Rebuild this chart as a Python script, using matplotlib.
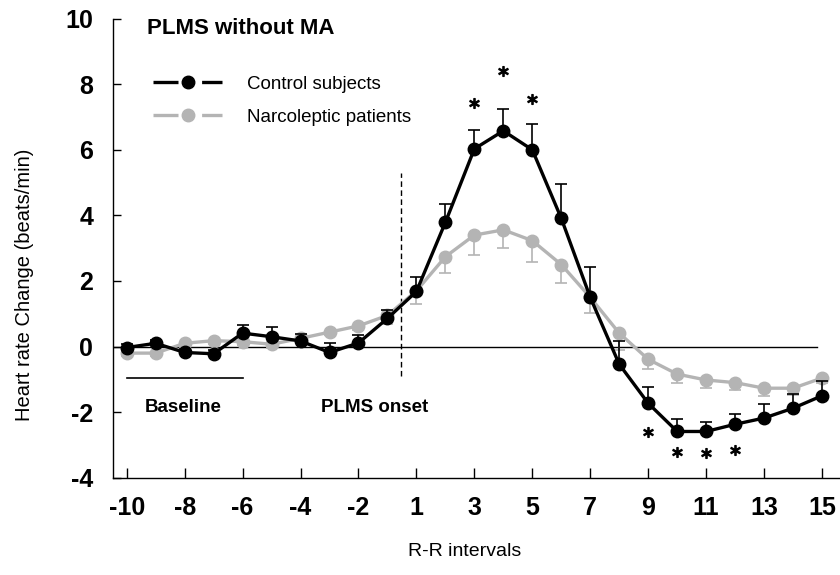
import numpy as np
import matplotlib
matplotlib.use('Agg')
from matplotlib import pyplot as plt
from matplotlib.lines import Line2D

plt.rcParams['font.family'] = ['Liberation Sans', 'DejaVu Sans']
plt.rcParams['lines.scale_dashes'] = False
plt.rcParams['axes.unicode_minus'] = False

# R-R intervals (no interval 0)
intervals = [-10, -9, -8, -7, -6, -5, -4, -3, -2, -1,
             1, 2, 3, 4, 5, 6, 7, 8, 9, 10, 11, 12, 13, 14, 15]
tick_intervals = [-10, -8, -6, -4, -2, 1, 3, 5, 7, 9, 11, 13, 15]

control = [-0.03, 0.10, -0.18, -0.22, 0.41, 0.30, 0.17, -0.18, 0.11, 0.86,
           1.68, 3.79, 6.03, 6.58, 6.00, 3.91, 1.50, -0.54, -1.73, -2.59,
           -2.59, -2.37, -2.18, -1.88, -1.50]
control_err = [0.10, 0.10, 0.10, 0.10, 0.24, 0.31, 0.22, 0.30, 0.25, 0.24,
               0.45, 0.55, 0.56, 0.67, 0.79, 1.04, 0.94, 0.72, 0.49, 0.39,
               0.30, 0.32, 0.43, 0.44, 0.46]

narco = [-0.20, -0.20, 0.10, 0.18, 0.15, 0.07, 0.25, 0.44, 0.63, 0.95,
         1.70, 2.74, 3.40, 3.56, 3.23, 2.50, 1.50, 0.41, -0.39, -0.84,
         -1.02, -1.10, -1.27, -1.27, -0.96]
narco_err = [0.10, 0.10, 0.10, 0.10, 0.10, 0.10, 0.10, 0.10, 0.12, 0.25,
             0.40, 0.50, 0.60, 0.56, 0.64, 0.57, 0.48, 0.51, 0.30, 0.26,
             0.25, 0.22, 0.25, 0.20, 0.15]

# significance stars
star_top_at = [3, 4, 5]
star_top_y = [7.43, 8.40, 7.55]
star_bot_at = [9, 10, 11, 12]
star_bot_y = [-2.60, -3.21, -3.24, -3.15]

pos = np.arange(len(intervals))
idx = {v: i for i, v in enumerate(intervals)}
gris = '#b4b4b4'

fig = plt.figure(figsize=(8.4, 5.75), dpi=100)
ax = fig.add_axes([0.1342, 0.1692, 0.8658, 0.7983])

ax.axhline(0, xmin=0, xmax=0.968, color='black', lw=1)

ax.errorbar(pos, narco, yerr=[narco_err, np.zeros(len(pos))], color=gris,
            lw=2.4, marker='o', ms=9, ecolor=gris, elinewidth=1.2,
            capsize=4, capthick=1.2, zorder=3)
ax.errorbar(pos, control, yerr=[np.zeros(len(pos)), control_err], color='black',
            lw=2.4, marker='o', ms=9, ecolor='black', elinewidth=1.2,
            capsize=4, capthick=1.2, zorder=4)

sx = [idx[v] for v in star_top_at + star_bot_at]
ax.plot(sx, star_top_y + star_bot_y, ls='none', marker='$*$', ms=7, color='black')

# baseline bar, onset line and labels
ax.plot([idx[-10], idx[-6]], [-0.96, -0.96], color='black', lw=1.2)
ax.plot([9.46, 9.46], [-0.9, 5.3], color='black', lw=1, dashes=(4, 2.5))
ax.text(1.94, -1.87, 'Baseline', ha='center', va='center', fontsize=13.5, fontweight='bold')
ax.text(8.57, -1.87, 'PLMS onset', ha='center', va='center', fontsize=13.5, fontweight='bold')

ax.set_xlim(-0.483, 24.62)
ax.set_ylim(-4, 10)
ax.set_xticks([idx[v] for v in tick_intervals])
ax.set_xticklabels([str(v) for v in tick_intervals])
ax.set_yticks([-4, -2, 0, 2, 4, 6, 8, 10])
for lab in ax.get_xticklabels() + ax.get_yticklabels():
  lab.set_fontweight('bold')
  lab.set_fontsize(18)
ax.tick_params(axis='y', direction='in', length=5.8, width=1, pad=14)
ax.tick_params(axis='x', direction='in', length=7.5, width=1, pad=13.5)
for s in ['top', 'right']:
  ax.spines[s].set_visible(False)
for s in ['left', 'bottom']:
  ax.spines[s].set_linewidth(1)

ax.set_ylabel('Heart rate Change (beats/min)', fontsize=14.5)
ax.yaxis.set_label_coords(-0.108, 0.421)
ax.set_xlabel('R-R intervals', fontsize=14)
ax.xaxis.set_label_coords(0.484, -0.1420)

fig.text(0.175, 0.951, 'PLMS without MA', fontsize=16, fontweight='bold', va='center')

handles = [
  Line2D([], [], color='black', lw=2.4, marker='o', ms=9, dashes=(18, 17)),
  Line2D([], [], color=gris, lw=2.4, marker='o', ms=9, dashes=(18, 17)),
]
ax.legend(handles, ['Control subjects', 'Narcoleptic patients'], loc='upper left',
          bbox_to_anchor=(0.0554, 0.876), frameon=False, handlelength=3.7,
          handletextpad=1.3, labelspacing=0.85, borderpad=0, borderaxespad=0,
          fontsize=13.5)

fig.savefig('out.png', dpi=100)
